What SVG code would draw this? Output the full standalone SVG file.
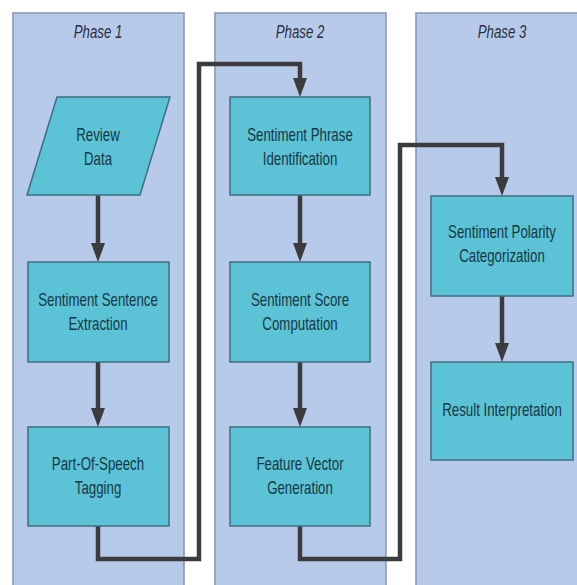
<svg xmlns="http://www.w3.org/2000/svg" width="577" height="585" viewBox="0 0 577 585">
<defs>
<style>
.lane{fill:#b8caea;stroke:#8494b0;stroke-width:1.5}
.box{fill:#5cc2d6;stroke:#3d6e80;stroke-width:1.5}
.t{font-family:"Liberation Sans",Arial,sans-serif;font-size:19px;fill:#163845;text-anchor:middle}
.ph{font-family:"Liberation Sans",Arial,sans-serif;font-size:19px;font-style:italic;fill:#2a2f3a;text-anchor:middle}
.c{fill:none;stroke:#3c3c3e;stroke-width:4.5;stroke-linejoin:miter}
</style>
<marker id="ah" markerUnits="userSpaceOnUse" markerWidth="20" markerHeight="16" viewBox="0 0 20 16" refX="1" refY="8" orient="auto">
<path d="M0,1 L19,8 L0,15 Z" fill="#3c3c3e"/>
</marker>
</defs>
<rect width="577" height="585" fill="#ffffff"/>
<g id="lanes">
<rect class="lane" x="13" y="13" width="171" height="580"/>
<rect class="lane" x="215" y="13" width="171" height="580"/>
<rect class="lane" x="416" y="13" width="170" height="580"/>
<text class="ph" transform="translate(98,38) scale(0.7,1)">Phase 1</text>
<text class="ph" transform="translate(300,38) scale(0.7,1)">Phase 2</text>
<text class="ph" transform="translate(502,38) scale(0.7,1)">Phase 3</text>
</g>
<g id="connectors">
<path class="c" d="M98,195 V244" marker-end="url(#ah)"/>
<path class="c" d="M98,362 V409" marker-end="url(#ah)"/>
<path class="c" d="M300,195 V244" marker-end="url(#ah)"/>
<path class="c" d="M300,362 V409" marker-end="url(#ah)"/>
<path class="c" d="M502,296 V344" marker-end="url(#ah)"/>
<path class="c" d="M98,526 V559 H199 V64 H300 V79" marker-end="url(#ah)"/>
<path class="c" d="M300,526 V559 H400 V145 H502 V178" marker-end="url(#ah)"/>
</g>
<g id="review-data">
<polygon class="box" points="57,97 170,97 140,195 27,195"/>
<text class="t" transform="translate(98,141) scale(0.7,1)">Review</text>
<text class="t" transform="translate(98,165) scale(0.7,1)">Data</text>
</g>
<g id="sentence-extraction">
<rect class="box" x="28" y="262" width="141" height="100"/>
<text class="t" transform="translate(98,306) scale(0.7,1)">Sentiment Sentence</text>
<text class="t" transform="translate(98,330) scale(0.7,1)">Extraction</text>
</g>
<g id="pos-tagging">
<rect class="box" x="28" y="427" width="141" height="99"/>
<text class="t" transform="translate(98,470) scale(0.7,1)">Part-Of-Speech</text>
<text class="t" transform="translate(98,494) scale(0.7,1)">Tagging</text>
</g>
<g id="phrase-identification">
<rect class="box" x="230" y="97" width="140" height="98"/>
<text class="t" transform="translate(300,141) scale(0.7,1)">Sentiment Phrase</text>
<text class="t" transform="translate(300,165) scale(0.7,1)">Identification</text>
</g>
<g id="score-computation">
<rect class="box" x="230" y="262" width="140" height="100"/>
<text class="t" transform="translate(300,306) scale(0.7,1)">Sentiment Score</text>
<text class="t" transform="translate(300,330) scale(0.7,1)">Computation</text>
</g>
<g id="feature-vector">
<rect class="box" x="230" y="427" width="140" height="99"/>
<text class="t" transform="translate(300,470) scale(0.7,1)">Feature Vector</text>
<text class="t" transform="translate(300,494) scale(0.7,1)">Generation</text>
</g>
<g id="polarity-categorization">
<rect class="box" x="431" y="196" width="142" height="100"/>
<text class="t" transform="translate(502,238) scale(0.7,1)">Sentiment Polarity</text>
<text class="t" transform="translate(502,262) scale(0.7,1)">Categorization</text>
</g>
<g id="result-interpretation">
<rect class="box" x="431" y="362" width="142" height="98"/>
<text class="t" transform="translate(502,416) scale(0.7,1)">Result Interpretation</text>
</g>
</svg>
